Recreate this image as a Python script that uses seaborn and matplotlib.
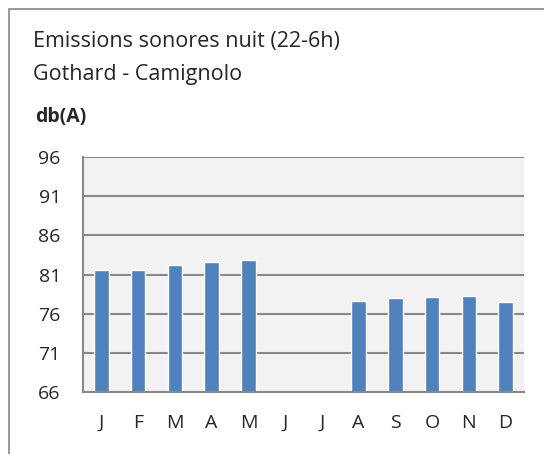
import matplotlib
matplotlib.use("Agg")
import matplotlib.pyplot as plt
import seaborn as sns
import pandas as pd
import numpy as np
from matplotlib.patches import Rectangle

months = ["Jan", "Feb", "Mar", "Apr", "May", "Jun", "Jul", "Aug", "Sep", "Oct", "Nov", "Dec"]
month_labels = ["J", "F", "M", "A", "M", "J", "J", "A", "S", "O", "N", "D"]
values = [81.6, 81.6, 82.2, 82.6, 82.8, np.nan, np.nan, 77.6, 78.0, 78.1, 78.2, 77.5]
yticks = [66, 71, 76, 81, 86, 91, 96]

df = pd.DataFrame({"month": months, "value": values})

sns.set_style("white")
plt.rcParams["font.family"] = ["Open Sans", "DejaVu Sans"]

fig = plt.figure(figsize=(5.44, 4.54), dpi=100)
ax = fig.add_axes([83/544, 1-392/454, (524-83)/544, (392-157)/454])

sns.barplot(data=df, x="month", y="value", order=months, color="#4F81BD",
            saturation=1, width=0.39, ax=ax)
ax.set_ylim(66, 96)
ax.set_xlim(-0.5, 11.5)
ax.set_facecolor("#F2F2F2")
ax.set_yticks(yticks)
ax.set_yticklabels([str(v) for v in yticks], fontsize=14)
ax.set_xticks(range(12))
ax.set_xticklabels(month_labels, fontsize=14)
ax.set_xticks(np.arange(-0.5, 12, 1), minor=True)
ax.tick_params(axis="x", which="major", length=0, pad=16)
ax.tick_params(axis="x", which="minor", length=6, width=1.5, color="#888888", direction="out")
ax.tick_params(axis="y", length=7, width=1.5, color="#888888", direction="out", pad=9)
ax.grid(axis="y", color="#888888", linewidth=1.5)
ax.set_axisbelow(True)
for s in ["top", "right"]:
    ax.spines[s].set_visible(False)
for s in ["left", "bottom"]:
    ax.spines[s].set_color("#888888")
    ax.spines[s].set_linewidth(1.5)
ax.set_xlabel("")
ax.set_ylabel("")

fig.text(33/544, 1-47/454, "Emissions sonores nuit (22-6h)", fontsize=15.5, va="baseline", ha="left")
fig.text(33/544, 1-80/454, "Gothard - Camignolo", fontsize=15.5, va="baseline", ha="left")
fig.text(35/544, 1-122/454, "db(A)", fontsize=14, fontweight="bold", va="baseline", ha="left")

fig.patches.append(Rectangle((9/544, -0.1), 1.2, 1-9/454+0.1, transform=fig.transFigure,
                             fill=False, edgecolor="#888888", linewidth=1.2))

fig.savefig("out.png", dpi=100)
